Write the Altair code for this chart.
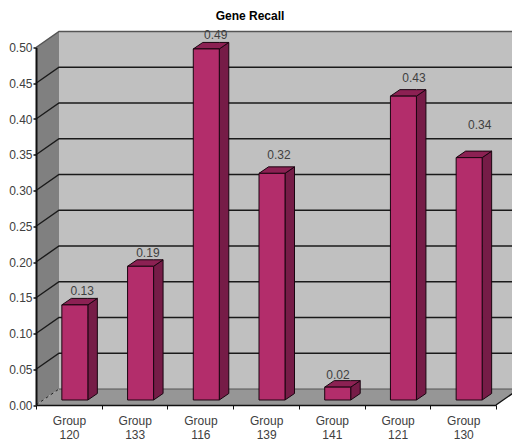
import altair as alt
import pandas as pd

groups = ["120", "133", "116", "139", "141", "121", "130"]
bar_values = [0.133, 0.187, 0.491, 0.317, 0.018, 0.425, 0.339]
label_text = ["0.13", "0.19", "0.49", "0.32", "0.02", "0.43", "0.34"]
label_lift = [14, 13, 14, 18, 12.5, 18, 33]
label_shift = [7.3, 7.3, 9.5, 7, 0.3, 10.5, 10.5]
y_ticks = [0.0, 0.05, 0.10, 0.15, 0.20, 0.25, 0.30, 0.35, 0.40, 0.45, 0.50]

W, H = 460, 357.5
UX, UY = W / 7, H / 0.5            # pixels per data unit
WALL_DX, WALL_DY = 23 / UX, 16 / UY  # depth of the box
BAR_W, BAR_SHIFT = 26 / UX, 6 / UX
BAR_DX, BAR_DY = 9.5 / UX, 6.5 / UY
BAR_LIFT = 5 / UY

xs = alt.Scale(domain=[0, 7], nice=False, zero=False)
ys = alt.Scale(domain=[0, 0.5], nice=False, zero=False)

names = "[" + ",".join(f"'{g}'" for g in groups) + "]"
x_axis = alt.Axis(
    values=list(range(8)),
    title=None,
    grid=False,
    zindex=1,
    labelExpr=f"datum.value < 7 ? ['Group', {names}[datum.value]] : ''",
    labelOffset=33,
    labelOverlap=False,
    labelFlush=False,
    labelFont="Liberation Sans",
    labelFontSize=12,
    labelColor="#404040",
    labelLineHeight=14,
    labelPadding=6,
    tickSize=4,
    tickColor="#111111",
    domainColor="#111111",
    domainWidth=1.5,
)
y_axis = alt.Axis(
    values=y_ticks,
    format=".2f",
    title=None,
    grid=False,
    zindex=1,
    labelFont="Liberation Sans",
    labelFontSize=12,
    labelColor="#404040",
    labelPadding=1,
    tickSize=3,
    tickWidth=1.5,
    tickColor="#111111",
    domainColor="#111111",
    domainWidth=2,
)
X = alt.X("x:Q", scale=xs, title=None, axis=x_axis)
Y = alt.Y("y:Q", scale=ys, title=None, axis=y_axis)
Y2 = alt.Y2("y2:Q")


def area(rows, color, **kw):
    return alt.Chart(pd.DataFrame(rows, columns=["id", "x", "y", "y2"])).mark_area(
        color=color, interpolate="linear", **kw
    ).encode(x=X, y=Y, y2=Y2, detail="id:N")


def line(rows, color, width, **kw):
    return alt.Chart(pd.DataFrame(rows, columns=["id", "x", "y"])).mark_line(
        color=color, strokeWidth=width, **kw
    ).encode(x=X, y=Y, detail="id:N")


# walls and floor
left_wall = area([(0, 0, 0, 0.5), (0, WALL_DX, WALL_DY, 0.5 + WALL_DY)], "#808080")
back_wall = area([(0, WALL_DX, WALL_DY, 0.5 + WALL_DY), (0, 7 + WALL_DX, WALL_DY, 0.5 + WALL_DY)], "#c0c0c0")
floor = area(
    [(0, 0, 0, 0), (0, WALL_DX, 0, WALL_DY), (0, 7, 0, WALL_DY), (0, 7 + WALL_DX, WALL_DY, WALL_DY)],
    "#969696",
)

# grid lines across both walls
grid_rows = []
for i, t in enumerate(y_ticks[1:-1]):
    grid_rows += [(i, 0, t), (i, WALL_DX, t + WALL_DY), (i, 7 + WALL_DX, t + WALL_DY)]
grid = line(grid_rows, "#1a1a1a", 1.4)
wall_top = line([(0, 0, 0.5), (0, WALL_DX, 0.5 + WALL_DY), (0, 7 + WALL_DX, 0.5 + WALL_DY)], "#555555", 1.5)
floor_back = line([(0, WALL_DX, WALL_DY), (0, 7 + WALL_DX, WALL_DY)], "#555555", 1)
floor_dash = line([(0, 0, 0), (0, WALL_DX, WALL_DY)], "#222222", 1, strokeDash=[3, 3])
floor_edge = line([(0, 7, 0), (0, 7 + WALL_DX, WALL_DY)], "#111111", 1.4)

# bars
front, side, top = [], [], []
for i, v in enumerate(bar_values):
    x0 = i + 0.5 + BAR_SHIFT - BAR_W / 2
    x1 = x0 + BAR_W
    b, t = BAR_LIFT, BAR_LIFT + v
    front += [(i, x0, b, t), (i, x1, b, t)]
    side += [(i, x1, b, t), (i, x1 + BAR_DX, b + BAR_DY, t + BAR_DY)]
    top += [(i, x0, t, t), (i, x0 + BAR_DX, t, t + BAR_DY), (i, x1, t, t + BAR_DY), (i, x1 + BAR_DX, t + BAR_DY, t + BAR_DY)]

outline = dict(stroke="#1a0510", strokeWidth=1)
side_faces = area(side, "#761c47", **outline)
top_faces = area(top, "#8c2153", **outline)
front_faces = area(front, "#b32d6b", **outline)

# value labels
label_layers = []
for i, txt in enumerate(label_text):
    d = pd.DataFrame({"x": [i + 0.5 + BAR_SHIFT], "y": [BAR_LIFT + bar_values[i]], "t": [txt]})
    label_layers.append(
        alt.Chart(d).mark_text(
            font="Liberation Sans", fontSize=12, color="#404040",
            xOffset=label_shift[i], yOffset=-label_lift[i],
        ).encode(x=X, y=Y, text="t:N")
    )

chart = alt.layer(
    left_wall, back_wall, floor, floor_back, grid, wall_top, floor_dash, floor_edge,
    side_faces, top_faces, front_faces, *label_layers,
).properties(
    width=W,
    height=H,
    padding={"left": 28, "top": 39.5, "right": 16, "bottom": 35},
    autosize=alt.AutoSizeParams(type="none"),
    title=alt.TitleParams(
        "Gene Recall", font="Liberation Sans", fontSize=12, fontWeight="bold", color="#000000",
        anchor="middle", offset=6, dx=-16,
    ),
    background="#ffffff",
).configure_view(stroke=None)

chart.save("out.html", embed_options={"renderer": "svg", "actions": False})
